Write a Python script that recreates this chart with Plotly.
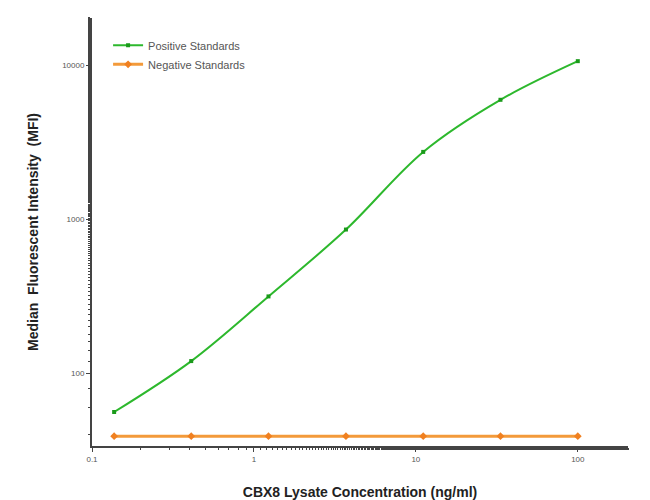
import plotly.graph_objects as go

conc = [0.137, 0.41, 1.23, 3.7, 11.1, 33.3, 100]
positive = [56, 120, 316, 860, 2750, 6000, 10700]
negative = [39, 39, 39, 39, 39, 39, 39]

fig = go.Figure()
fig.add_trace(go.Scatter(x=conc, y=positive, mode="lines+markers", name="Positive Standards",
                         line=dict(color="#2db82d", width=2, shape="spline", smoothing=1.0),
                         marker=dict(color="#1a9a1a", size=4, symbol="square")))
fig.add_trace(go.Scatter(x=conc, y=negative, mode="lines+markers", name="Negative Standards",
                         line=dict(color="#f39a3a", width=3),
                         marker=dict(color="#f08020", size=6, symbol="diamond")))

fig.update_layout(
    width=650, height=500, paper_bgcolor="white", plot_bgcolor="white",
    margin=dict(l=84, r=30, t=10, b=62),
    font=dict(family="Liberation Sans, Arial", color="#222"),
    legend=dict(x=0.03, y=0.97, bgcolor="rgba(0,0,0,0)", font=dict(size=11, color="#555")),
    xaxis=dict(type="log", range=[-1, 2.31], showline=True, linecolor="#444", linewidth=2,
               showgrid=False, zeroline=False, ticks="outside", ticklen=4,
               tickvals=[0.1, 1, 10, 100], ticktext=["0.1", "1", "10", "100"],
               tickfont=dict(size=8, color="#555"),
               minor=dict(ticks="outside", ticklen=2, tickcolor="#444"),
               title=dict(text="<b>CBX8 Lysate Concentration (ng/ml)</b>", font=dict(size=14), standoff=25)),
    yaxis=dict(type="log", range=[1.527, 4.31], showline=True, linecolor="#444", linewidth=2,
               showgrid=False, zeroline=False, ticks="outside", ticklen=4,
               tickvals=[100, 1000, 10000], ticktext=["100", "1000", "10000"],
               tickfont=dict(size=8, color="#555"),
               minor=dict(ticks="outside", ticklen=2, tickcolor="#444"),
               title=dict(text="<b>Median  Fluorescent Intensity  (MFI)</b>", font=dict(size=14), standoff=20)),
)

fig.write_html("out.html")
